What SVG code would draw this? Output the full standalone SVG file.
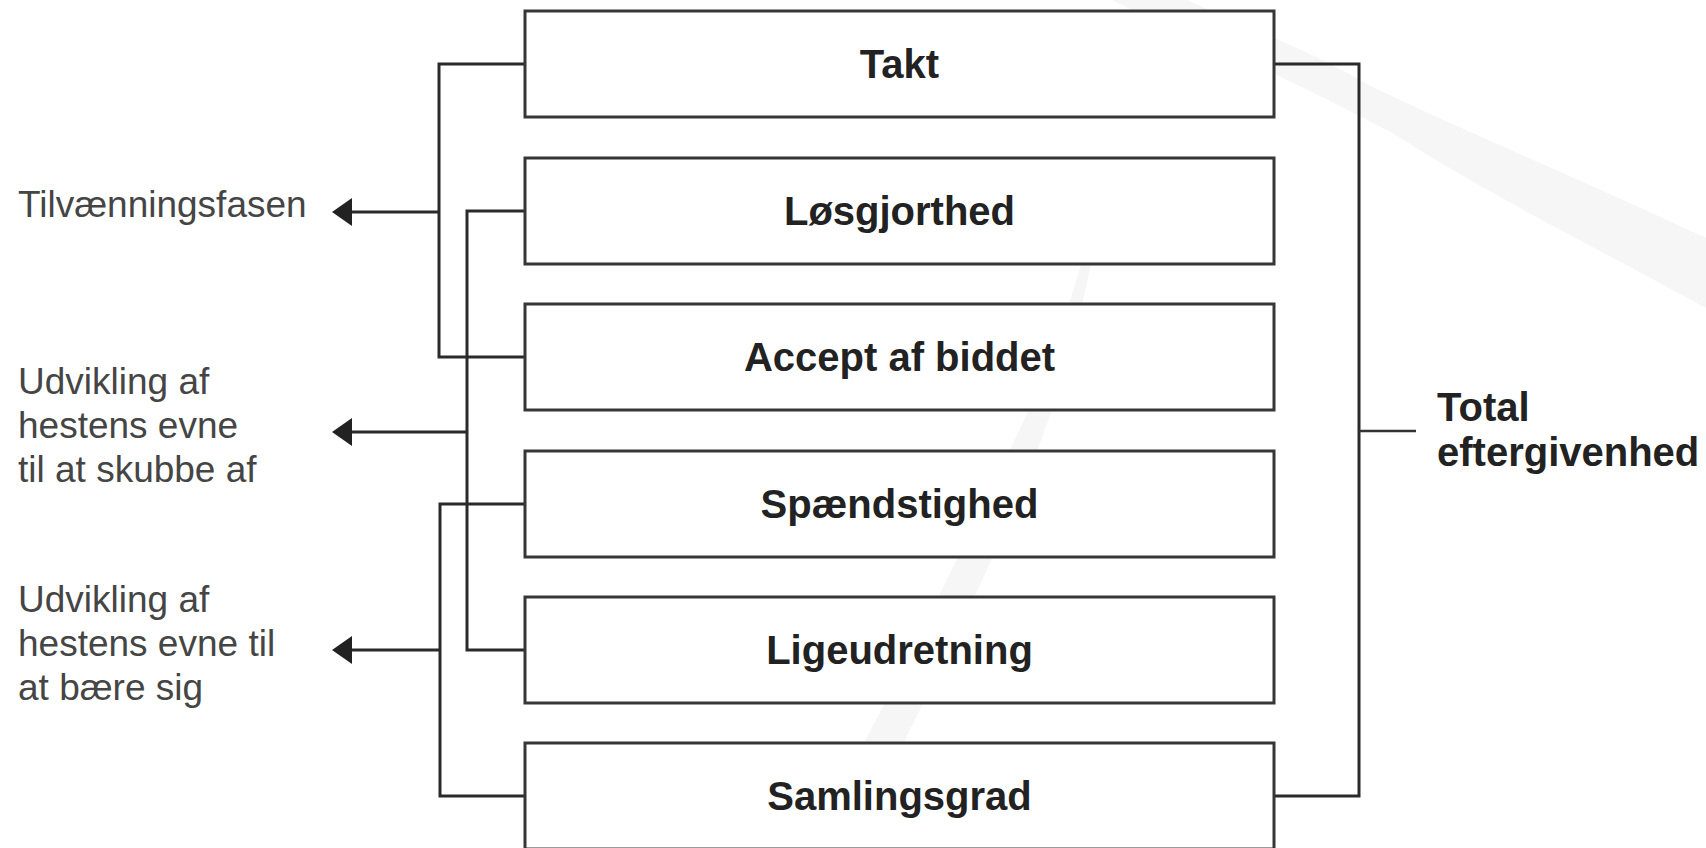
<svg xmlns="http://www.w3.org/2000/svg" width="1706" height="848" viewBox="0 0 1706 848">
  <style>
    .box { fill: #ffffff; stroke: #363636; stroke-width: 3; }
    .lbl { font-family: "Liberation Sans", Arial, sans-serif; font-weight: bold; font-size: 40px; fill: #222222; text-anchor: middle; }
    .side { font-family: "Liberation Sans", Arial, sans-serif; font-size: 37px; fill: #454545; }
    .total { font-family: "Liberation Sans", Arial, sans-serif; font-weight: bold; font-size: 40px; fill: #222222; }
    .wire { fill: none; stroke: #2a2a2a; stroke-width: 3; }
    .tick { fill: none; stroke: #333333; stroke-width: 2.5; }
    .wm { fill: #f6f6f6; stroke: none; }
  </style>
  <defs>
    <marker id="arrow" viewBox="0 0 20 28" refX="0" refY="14" markerWidth="20" markerHeight="28" markerUnits="userSpaceOnUse" orient="auto">
      <path d="M0,0 L20,14 L0,28 Z" fill="#222222"/>
    </marker>
  </defs>
  <rect width="1706" height="848" fill="#ffffff"/>

  <!-- faint background watermark strokes -->
  <g id="watermark">
    <path class="wm" d="M1112,0 L1188,0 C1240,25 1300,45 1369,85 C1450,125 1560,170 1706,238 L1706,308 C1600,250 1480,190 1396,135 C1330,100 1290,82 1250,62 C1200,40 1150,20 1112,0 Z"/>
    <path class="wm" d="M1106,165 C1100,230 1085,300 1062,380 C1030,480 975,600 915,720 C890,770 870,810 852,848 L812,848 C835,800 862,745 892,690 C942,590 1002,470 1047,370 C1072,300 1092,230 1106,165 Z"/>
  </g>

  <!-- connectors -->
  <g id="connectors">
    <path class="wire" d="M525,64 H439 V357 H525"/>
    <path class="wire" d="M439,212 H352" marker-end="url(#arrow)"/>
    <path class="wire" d="M525,211 H467 V650 H525"/>
    <path class="wire" d="M467,432 H352" marker-end="url(#arrow)"/>
    <path class="wire" d="M525,504 H440 V796 H525"/>
    <path class="wire" d="M440,650 H352" marker-end="url(#arrow)"/>
    <path class="wire" d="M1274,64 H1359 V796 H1274"/>
    <path class="tick" d="M1359,431 H1416"/>
  </g>

  <g id="n-takt">
    <rect class="box" x="525" y="11" width="749" height="106"/>
    <text class="lbl" x="899.5" y="78">Takt</text>
  </g>
  <g id="n-losgjorthed">
    <rect class="box" x="525" y="158" width="749" height="106"/>
    <text class="lbl" x="899.5" y="225">Løsgjorthed</text>
  </g>
  <g id="n-accept">
    <rect class="box" x="525" y="304" width="749" height="106"/>
    <text class="lbl" x="899.5" y="371">Accept af biddet</text>
  </g>
  <g id="n-spaendstighed">
    <rect class="box" x="525" y="451" width="749" height="106"/>
    <text class="lbl" x="899.5" y="518">Spændstighed</text>
  </g>
  <g id="n-ligeudretning">
    <rect class="box" x="525" y="597" width="749" height="106"/>
    <text class="lbl" x="899.5" y="664">Ligeudretning</text>
  </g>
  <g id="n-samlingsgrad">
    <rect class="box" x="525" y="743" width="749" height="106"/>
    <text class="lbl" x="899.5" y="810">Samlingsgrad</text>
  </g>

  <g id="t-tilvaenning">
    <text class="side" x="18" y="217">Tilvænningsfasen</text>
  </g>
  <g id="t-skubbe">
    <text class="side" x="18" y="394">Udvikling af</text>
    <text class="side" x="18" y="438">hestens evne</text>
    <text class="side" x="18" y="482">til at skubbe af</text>
  </g>
  <g id="t-baere">
    <text class="side" x="18" y="612">Udvikling af</text>
    <text class="side" x="18" y="656">hestens evne til</text>
    <text class="side" x="18" y="700">at bære sig</text>
  </g>
  <g id="t-total">
    <text class="total" x="1437" y="421">Total</text>
    <text class="total" x="1437" y="466">eftergivenhed</text>
  </g>
</svg>
